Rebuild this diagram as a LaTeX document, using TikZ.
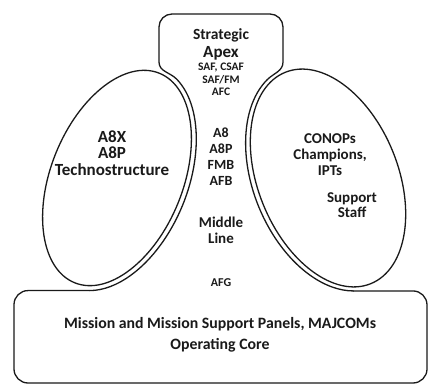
\documentclass[tikz,border=0pt]{standalone}
\usepackage{fontspec}
\setmainfont{Carlito}
\usetikzlibrary{shapes.geometric}
\definecolor{ink}{HTML}{1A1A1A}
\begin{document}
\begin{tikzpicture}[x=1pt,y=1pt,
  outline/.style={draw=ink, line width=1.3pt, line cap=round, line join=round},
  lbl/.style={text=ink, align=center, inner sep=0pt, font=\bfseries\fontsize{15}{16.5}\selectfont},
  small/.style={text=ink, align=center, inner sep=0pt, font=\bfseries\fontsize{11.5}{12.5}\selectfont},
  mid/.style={text=ink, align=center, inner sep=0pt, font=\bfseries\fontsize{14}{16}\selectfont}]
\useasboundingbox (0,0) rectangle (430,387);
\fill[white] (0,0) rectangle (430,387);

% side ellipses (inner lines)
\node[outline, ellipse, minimum width=132pt, minimum height=226pt, inner sep=0pt, rotate=-22] (techbox) at (117,209) {};
\node[outline, ellipse, minimum width=140pt, minimum height=228pt, inner sep=0pt, rotate=22] (supbox) at (328,209) {};

% outer outline arcs
\begin{scope}[shift={(117,209)}, rotate=-22]
  \coordinate (LJ) at (75:71 and 118);
  \coordinate (LB) at (-76.3:71 and 118);
  \draw[outline] (LJ) arc[start angle=75, end angle=-76.3, x radius=71, y radius=118];
\end{scope}
\begin{scope}[shift={(328,209)}, rotate=22]
  \coordinate (RJ) at (105:75 and 118);
  \coordinate (RB) at (255.6:75 and 118);
  \draw[outline] (RJ) arc[start angle=105, end angle=255.6, x radius=75, y radius=118];
\end{scope}

% strategic apex outline
\coordinate (AL) at (159,325);
\coordinate (AR) at (283,325);
\draw[outline] (LJ) to[out=134, in=-90] (AL) -- (159,360)
  arc[start angle=180, end angle=90, radius=13] -- (270,373)
  arc[start angle=90, end angle=0, radius=13] -- (AR) to[out=-90, in=45] (RJ);

% operating core outline
\draw[outline, rounded corners=14pt] (LB) -- (14,0 |- LB) -- (14,4) -- (427,4) -- (427,0 |- RB) -- (RB);

% texts
\node[lbl, font=\bfseries\fontsize{15.5}{16}\selectfont] (t1) at (221,351.5) {Strategic};
\node[lbl, font=\bfseries\fontsize{17}{17}\selectfont] (t2) at (221,334) {Apex};
\node[small] (t3) at (221,307.5) {SAF, CSAF\\SAF/FM\\AFC};
\node[mid] (t4) at (221,230) {A8\\A8P\\FMB\\AFB};
\node[lbl, font=\bfseries\fontsize{15}{16}\selectfont] (t5) at (221,157) {Middle\\Line};
\node[small, font=\bfseries\fontsize{12}{12}\selectfont] (t6) at (221,104) {AFG};
\node[lbl, font=\bfseries\fontsize{17}{16.5}\selectfont] (t7) at (112,234) {A8X\\A8P\\Technostructure};
\node[lbl, font=\bfseries\fontsize{15}{16}\selectfont] (t8) at (330,232) {CONOPs\\Champions,\\IPTs};
\node[lbl, font=\bfseries\fontsize{15}{15.5}\selectfont] (t9) at (352,182) {Support\\Staff};
\node[lbl, font=\bfseries\fontsize{15.8}{21}\selectfont] (t10) at (220,52) {Mission and Mission Support Panels, MAJCOMs\\Operating Core};
\end{tikzpicture}
\end{document}
